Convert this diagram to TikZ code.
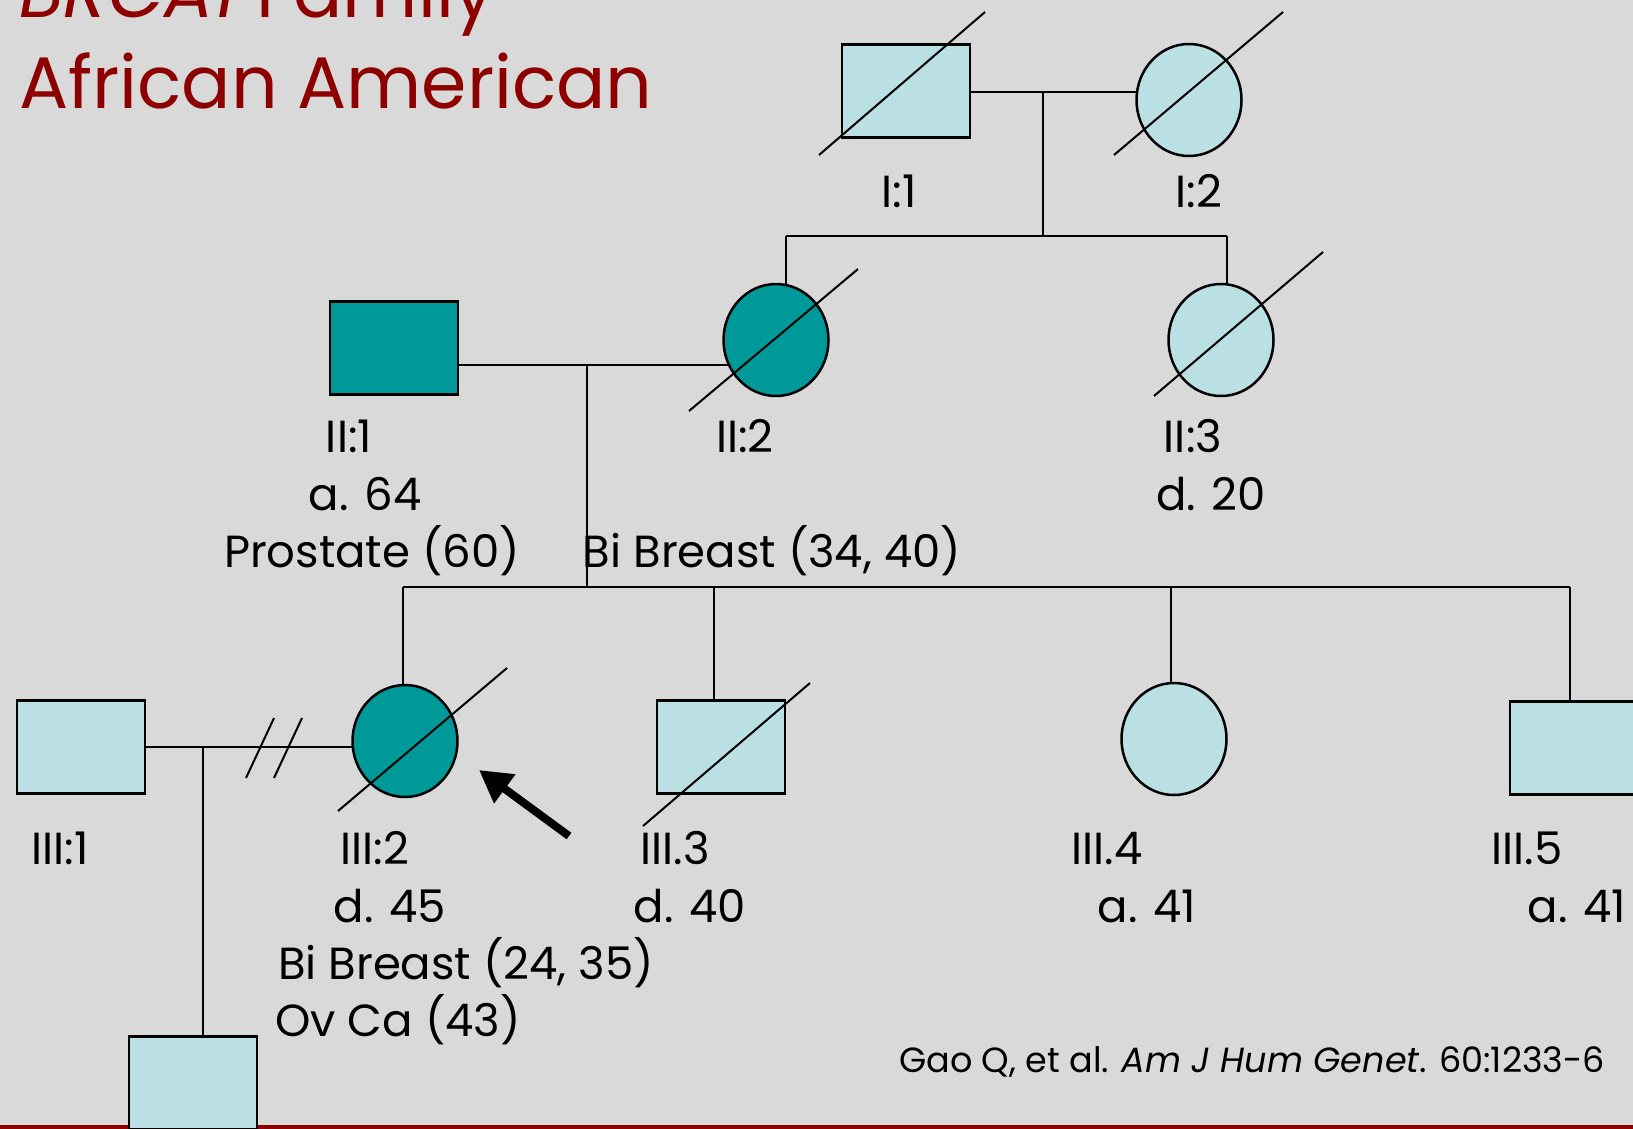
\documentclass[tikz,border=0pt]{standalone}
\usepackage{fontspec}
\setmainfont{Poppins}
\usetikzlibrary{shapes.geometric,arrows.meta,calc}
\definecolor{bggray}{RGB}{217,217,217}
\definecolor{paleblue}{RGB}{186,224,227}
\definecolor{tealfill}{RGB}{0,153,153}
\definecolor{titlered}{RGB}{140,0,0}
\pgfdeclarelayer{canvas}
\pgfdeclarelayer{lines}
\pgfsetlayers{canvas,lines,main}
\begin{document}
\begin{tikzpicture}[x=1pt,y=-1pt,
  person/.style={draw=black,line width=2.5pt,inner sep=0pt},
  male/.style={person,rectangle,minimum width=128pt,minimum height=93pt},
  female/.style={person,ellipse,minimum width=105pt,minimum height=112pt},
  unaff/.style={fill=paleblue},
  aff/.style={fill=tealfill},
  link/.style={line width=2pt},
  deceased/.style={line width=2pt},
  lbl/.style={font=\fontsize{45}{56}\selectfont,anchor=base,inner sep=0pt},
  ttl/.style={font=\fontsize{73}{88}\selectfont,text=titlered,anchor=base west,inner sep=0pt},
  cite/.style={font=\fontsize{35}{42}\selectfont,anchor=base west,inner sep=0pt}]
\useasboundingbox (0,0) rectangle (1633,1128);
\begin{pgfonlayer}{canvas}
\fill[bggray] (0,0) rectangle (1633,1128);
\end{pgfonlayer}
\begin{scope}
\clip (0,0) rectangle (1633,1128);

% title
\node[ttl] (title1) at (19,17) {\textit{BRCA1} Family};
\node[ttl] (title2) at (19,108) {African American};

% bottom rule
\fill[titlered] (0,1125) rectangle (1633,1131);

% generation I
\node[male,unaff] (I1) at (906,91) {};
\node[female,unaff] (I2) at (1189,100) {};
% generation II
\node[male,aff] (II1) at (394,348) {};
\node[female,aff] (II2) at (776,340) {};
\node[female,unaff] (II3) at (1221,340) {};
% generation III
\node[male,unaff] (III1) at (81,747) {};
\node[female,aff] (III2) at (405,741) {};
\node[male,unaff] (III3) at (721,747) {};
\node[female,unaff] (III4) at (1174,739) {};
\node[male,unaff] (III5) at (1574,748) {};
% generation IV
\node[male,unaff] (IV1) at (193,1083) {};

% connectors
\coordinate (m1) at (1043,92);
\coordinate (s1) at (1043,236);
\coordinate (s1l) at (786,236);
\coordinate (s1r) at (1227,236);
\coordinate (m2) at (587,365);
\coordinate (s2) at (587,587);
\coordinate (s2l) at (403,587);
\coordinate (s2a) at (714,587);
\coordinate (s2b) at (1171,587);
\coordinate (s2r) at (1570,587);
\coordinate (m3) at (203,747);
\begin{pgfonlayer}{lines}
\draw[link] (I1.center |- m1) -- (I2.center |- m1);
\draw[link] (m1) -- (s1);
\draw[link] (s1l) -- (s1r);
\draw[link] (s1l) -- (s1l |- II2.center);
\draw[link] (s1r) -- (s1r |- II3.center);
\draw[link] (II1.center |- m2) -- (II2.center |- m2);
\draw[link] (m2) -- (s2);
\draw[link] (s2l) -- (s2r);
\draw[link] (s2l) -- (s2l |- III2.center);
\draw[link] (s2a) -- (s2a |- III3.center);
\draw[link] (s2b) -- (s2b |- III4.center);
\draw[link] (s2r) -- (s2r |- III5.center);
\draw[link] (III1.center |- m3) -- (III2.center |- m3);
\draw[link] (m3) -- (m3 |- IV1.center);
\end{pgfonlayer}

% separation marks on the III:1 -- III:2 line
\draw[link] (246,778) -- (274,718);
\draw[link] (274,778) -- (302,718);

% deceased slashes
\draw[deceased] ($(I1)+(-87,64)$) -- ($(I1)+(79,-79)$);
\draw[deceased] ($(I2)+(-75,55)$) -- ($(I2)+(94,-88)$);
\draw[deceased] ($(II2)+(-87,71)$) -- ($(II2)+(82,-71)$);
\draw[deceased] ($(II3)+(-67,56)$) -- ($(II3)+(102,-88)$);
\draw[deceased] ($(III2)+(-67,70)$) -- ($(III2)+(102,-73)$);
\draw[deceased] ($(III3)+(-78,79)$) -- ($(III3)+(89,-64)$);

% proband arrow
\coordinate (arrowtail) at (569,836);
\coordinate (arrowtip) at (479,770);
\draw[line width=8pt,-{Triangle[length=32pt,width=34pt]}] (arrowtail) -- (arrowtip);

% labels
\node[lbl] (lI1) at (899,207) {I:1};
\node[lbl] (lI2) at (1199,207) {I:2};
\node[lbl] (lII1) at (349,452) {II:1};
\node[lbl] (lII1a) at (365,510) {a. 64};
\node[lbl] (lII1b) at (372,567) {Prostate (60)};
\node[lbl] (lII2) at (745,452) {II:2};
\node[lbl] (lII2b) at (772,567) {Bi Breast (34, 40)};
\node[lbl] (lII3) at (1193,452) {II:3};
\node[lbl] (lII3a) at (1211,510) {d. 20};
\node[lbl] (lIII1) at (60,864) {III:1};
\node[lbl] (lIII2) at (375,864) {III:2};
\node[lbl] (lIII2a) at (390,922) {d. 45};
\node[lbl] (lIII2b) at (466,979) {Bi Breast (24, 35)};
\node[lbl] (lIII2c) at (398,1036) {Ov Ca (43)};
\node[lbl] (lIII3) at (675,864) {III.3};
\node[lbl] (lIII3a) at (690,922) {d. 40};
\node[lbl] (lIII4) at (1107,864) {III.4};
\node[lbl] (lIII4a) at (1147,922) {a. 41};
\node[lbl] (lIII5) at (1527,864) {III.5};
\node[lbl] (lIII5a) at (1577,922) {a. 41};

% reference
\node[cite] (ref) at (899,1072) {Gao Q, et al. \textit{Am J Hum Genet}. 60:1233-6};
\end{scope}
\end{tikzpicture}
\end{document}
